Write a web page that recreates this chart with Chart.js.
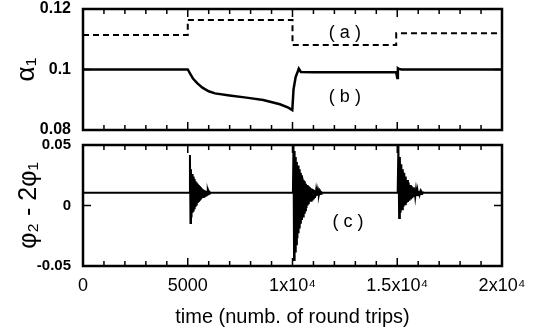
<!DOCTYPE html>
<html>
<head>
<meta charset="utf-8">
<script src="https://cdn.jsdelivr.net/npm/chart.js@4"></script>
<style>
  body { margin: 0; background: #fff; }
  #wrap { position: relative; width: 537px; height: 335px; }
  canvas { position: absolute; left: 0; }
  #top { top: 0; }
  #bottom { top: 135px; }
</style>
</head>
<body>
<div id="wrap">
  <canvas id="top" width="537" height="140"></canvas>
  <canvas id="bottom" width="537" height="200"></canvas>
</div>
<script>
// x axis
const xTicks = [0, 5000, 10000, 15000, 20000];
const xTickLabels = ['0', '5000', '1x10\u2074', '1.5x10\u2074', '2x10\u2074'];

// (a) dashed step curve
const aTime = [0, 5000, 5000, 10000, 10000, 14950, 14950, 19800];
const aValue = [0.1114, 0.1114, 0.1164, 0.1164, 0.1081, 0.1081, 0.112, 0.112];

// (b) solid curve
const bTime = [0, 5000, 5100, 5250, 5450, 5700, 6000, 6300, 7000, 7800, 8600, 9400, 9800, 9990, 10050, 10150, 10260, 10300, 10400, 11000, 14950, 15000, 15030, 15080, 15200, 15500, 20000];
const bValue = [0.1, 0.1, 0.0988, 0.097, 0.0955, 0.094, 0.0928, 0.0921, 0.0914, 0.0907, 0.0899, 0.0885, 0.0874, 0.0866, 0.0935, 0.0975, 0.0995, 0.1003, 0.0992, 0.0991, 0.0991, 0.0972, 0.1004, 0.1002, 0.1, 0.1, 0.1];

// (c) phase difference: flat level plus three ringing bursts
const cLevel = 0.0105;
const burst1Start = 5080, burst1Step = 25;
const burst1 = [0.0105, 0.0417, -0.0145, 0.030, -0.010, 0.026, -0.006, 0.024, -0.005, 0.022, -0.003, 0.020, -0.001, 0.019, 0.000, 0.018, 0.002, 0.017, 0.003, 0.016, 0.004, 0.015, 0.005, 0.014, 0.006, 0.0135, 0.007, 0.013, 0.0075, 0.0125, 0.008, 0.012, 0.0085, 0.0118, 0.009, 0.0115, 0.0095, 0.0112, 0.010, 0.011, 0.0105];
const burst2Start = 10020, burst2Step = 27;
const burst2 = [0.0105, 0.050, -0.045, 0.045, -0.038, 0.040, -0.032, 0.036, -0.027, 0.033, -0.023, 0.030, -0.019, 0.027, -0.015, 0.025, -0.012, 0.023, -0.009, 0.021, -0.006, 0.020, -0.004, 0.018, -0.002, 0.017, 0.000, 0.016, 0.001, 0.015, 0.003, 0.0145, 0.004, 0.014, 0.005, 0.0135, 0.006, 0.013, 0.007, 0.0125, 0.0075, 0.012, 0.008, 0.0118, 0.0085, 0.0115, 0.009, 0.0112, 0.0095, 0.011, 0.010, 0.0108, 0.0105];
const burst3Start = 15020, burst3Step = 35;
const burst3 = [0.0105, 0.050, -0.0103, 0.040, -0.006, 0.034, -0.003, 0.030, -0.001, 0.027, 0.001, 0.024, 0.002, 0.021, 0.003, 0.019, 0.004, 0.017, 0.005, 0.016, 0.006, 0.015, 0.007, 0.014, 0.0075, 0.013, 0.008, 0.0125, 0.0085, 0.012, 0.009, 0.0115, 0.0095, 0.011, 0.010, 0.0108, 0.0105];

function zip(xs, ys) { return xs.map((x, i) => ({ x: x, y: ys[i] })); }

const cPoints = [{ x: 0, y: cLevel }];
[[burst1Start, burst1Step, burst1], [burst2Start, burst2Step, burst2], [burst3Start, burst3Step, burst3]].forEach(b => {
  b[2].forEach((v, i) => cPoints.push({ x: b[0] + i * b[1], y: v }));
});
cPoints.push({ x: 20000, y: cLevel });

// y axis: fixed width, no extra room for the label halves
function fitY(s) {
  s.width = 83;
  s.paddingTop = 0;
  s.paddingBottom = 0;
}

const framePlugin = {
  id: 'frame',
  afterDatasetsDraw(chart, args, opts) {
    const ctx = chart.ctx, a = chart.chartArea, sx = chart.scales.x, sy = chart.scales.y;
    const seg = (x1, y1, x2, y2) => { ctx.beginPath(); ctx.moveTo(x1, y1); ctx.lineTo(x2, y2); ctx.stroke(); };
    ctx.save();
    ctx.strokeStyle = '#000';
    ctx.lineWidth = 1.5;
    for (let t = 0; t <= 20000; t += 1000) {
      const px = sx.getPixelForValue(t);
      const len = t % 5000 === 0 ? 8 : 5;
      seg(px, a.top, px, a.top + len);
      seg(px, a.bottom, px, a.bottom - len);
    }
    opts.yTicks.forEach(v => {
      const py = sy.getPixelForValue(v);
      seg(a.left, py, a.left + 8, py);
      seg(a.right, py, a.right - 8, py);
    });
    ctx.lineWidth = 2.5;
    ctx.strokeRect(a.left, a.top, a.right - a.left, a.bottom - a.top);
    ctx.fillStyle = '#000';
    ctx.font = '18px Arial';
    ctx.textAlign = 'center';
    ctx.textBaseline = 'middle';
    opts.labels.forEach(l => ctx.fillText(l.text, sx.getPixelForValue(l.x), sy.getPixelForValue(l.y)));
    ctx.restore();
  }
};

new Chart(document.getElementById('top'), {
  type: 'line',
  data: {
    datasets: [
      { data: zip(aTime, aValue), borderColor: '#000', borderWidth: 2, borderDash: [6, 4], pointRadius: 0 },
      { data: zip(bTime, bValue), borderColor: '#000', borderWidth: 2.5, pointRadius: 0 }
    ]
  },
  options: {
    responsive: false,
    animation: false,
    devicePixelRatio: 1,
    layout: { padding: { left: 0, right: 35, top: 9, bottom: 10 } },
    plugins: {
      legend: { display: false },
      tooltip: { enabled: false },
      frame: { yTicks: [0.1], labels: [{ text: '( a )', x: 12500, y: 0.1121 }, { text: '( b )', x: 12500, y: 0.0909 }] }
    },
    scales: {
      x: { type: 'linear', min: 0, max: 20000, display: false },
      y: {
        min: 0.08, max: 0.12,
        afterFit: fitY,
        afterBuildTicks(s) { s.ticks = [0.08, 0.1, 0.12].map(v => ({ value: v })); },
        grid: { display: false, drawTicks: false },
        border: { display: false },
        ticks: { padding: 12, color: '#000', font: { family: 'Arial', size: 16, weight: 'bold', lineHeight: 1 }, callback: v => String(+v.toFixed(2)) },
        title: { display: true, text: '\u03b1\u2081', color: '#000', font: { family: 'Arial', size: 26, lineHeight: 1 }, padding: { top: 14, bottom: 0 } }
      }
    }
  },
  plugins: [framePlugin]
});

new Chart(document.getElementById('bottom'), {
  type: 'line',
  data: {
    datasets: [
      { data: cPoints, borderColor: '#000', borderWidth: 2, pointRadius: 0 }
    ]
  },
  options: {
    responsive: false,
    animation: false,
    devicePixelRatio: 1,
    layout: { padding: { left: 0, right: 35, top: 10, bottom: 0 } },
    plugins: {
      legend: { display: false },
      tooltip: { enabled: false },
      frame: { yTicks: [0], labels: [{ text: '( c )', x: 12650, y: -0.0136 }] }
    },
    scales: {
      x: {
        type: 'linear', min: 0, max: 20000,
        afterFit(s) { s.height = 69; },
        afterBuildTicks(s) { s.ticks = xTicks.map(v => ({ value: v })); },
        grid: { display: false, drawTicks: false },
        border: { display: false },
        ticks: { padding: 9, maxRotation: 0, autoSkip: false, color: '#000', font: { family: 'Arial', size: 18 }, callback: (v, i) => xTickLabels[i] },
        title: { display: true, text: 'time (numb. of round trips)', color: '#000', font: { family: 'Arial', size: 20 }, padding: { top: 0, bottom: 6 } }
      },
      y: {
        min: -0.05, max: 0.05,
        afterFit: fitY,
        afterBuildTicks(s) { s.ticks = [-0.05, 0, 0.05].map(v => ({ value: v })); },
        grid: { display: false, drawTicks: false },
        border: { display: false },
        ticks: { padding: 12, color: '#000', font: { family: 'Arial', size: 15, weight: 'bold', lineHeight: 1 }, callback: v => String(+v.toFixed(2)) },
        title: { display: true, text: '\u03c6\u2082 - 2\u03c6\u2081', color: '#000', font: { family: 'Arial', size: 25, lineHeight: 1 }, padding: { top: 17, bottom: 0 } }
      }
    }
  },
  plugins: [framePlugin]
});
</script>
</body>
</html>
